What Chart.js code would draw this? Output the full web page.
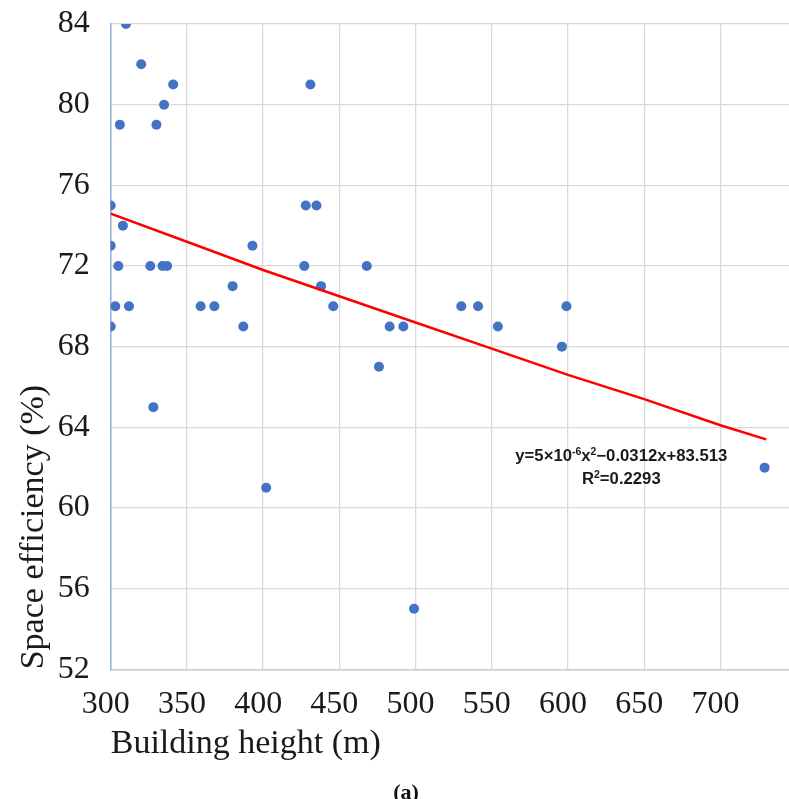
<!DOCTYPE html>
<html lang="en">
<head>
  <title>Space efficiency vs building height</title>
  <script src="https://cdn.jsdelivr.net/npm/chart.js"></script>
  <style>
    body { margin: 0; background: #fff; }
    #chart { display: block; }
  </style>
</head>
<body>
  <canvas id="chart" width="789" height="799"></canvas>
  <script>
    // Building height (m) / space efficiency (%)
    const heights = [310, 320, 341, 431, 335, 306, 330, 300, 428, 435,
                     308, 300, 393, 305, 326, 334, 337, 427, 468, 380,
                     438, 303, 312, 359, 368, 446, 530, 541, 599, 300,
                     387, 483, 492, 554, 596, 476, 328, 402, 729, 499];
    const efficiency = [84, 82, 81, 81, 80, 79, 79, 75, 75, 75,
                        74, 73, 73, 72, 72, 72, 72, 72, 72, 71,
                        71, 70, 70, 70, 70, 70, 70, 70, 70, 69,
                        69, 69, 69, 69, 68, 67, 65, 61, 62, 55];

    // trend line, read at a few heights
    const trendX = [300, 350, 400, 450, 500, 550, 600, 650, 700, 730];
    const trendY = [74.6, 73.2, 71.8, 70.5, 69.2, 67.9, 66.6, 65.4, 64.1, 63.4];

    // axis ranges and tick steps
    const xMin = 300, xMax = 745, xStep = 50;
    const yMin = 52, yMax = 84, yStep = 4;

    const equationText = [
      [['y=5×10', 0], ['-6', 1], ['x', 0], ['2', 1], ['−0.0312x+83.513', 0]],
      [['R', 0], ['2', 1], ['=0.2293', 0]]
    ];
    const panelLabel = '(a)';

    const serif = "'Liberation Serif', 'Times New Roman', serif";
    const narrow = "'Liberation Sans Narrow', 'Liberation Sans', Arial, sans-serif";

    // draws the fit equation and the panel letter
    const extrasPlugin = {
      id: 'extras',
      afterDraw(chart) {
        const ctx = chart.ctx;
        const xs = chart.scales.x, ys = chart.scales.y;
        const cx = xs.getPixelForValue(635);
        const cy = ys.getPixelForValue(62.65);
        const big = 'bold 16px ' + narrow;
        const small = 'bold 10px ' + narrow;

        ctx.save();
        ctx.fillStyle = '#1a1a1a';
        ctx.textBaseline = 'alphabetic';
        let sx = null;
        equationText.forEach((runs, i) => {
          let w = 0;
          runs.forEach(r => { ctx.font = r[1] ? small : big; w += ctx.measureText(r[0]).width; });
          if (sx === null) sx = 212 / w;
          ctx.save();
          ctx.translate(cx - w * sx / 2, cy + 6 + i * 23);
          ctx.scale(sx, 1);
          let x = 0;
          runs.forEach(r => {
            ctx.font = r[1] ? small : big;
            ctx.fillText(r[0], x, r[1] ? -6 : 0);
            x += ctx.measureText(r[0]).width;
          });
          ctx.restore();
        });

        ctx.font = 'bold 22px ' + serif;
        ctx.fillStyle = '#111';
        ctx.textAlign = 'center';
        ctx.textBaseline = 'middle';
        ctx.fillText(panelLabel, 406, 793);
        ctx.restore();
      }
    };

    const points = heights.map((h, i) => ({ x: h, y: efficiency[i] }));
    const trend = trendX.map((h, i) => ({ x: h, y: trendY[i] }));

    new Chart(document.getElementById('chart'), {
      type: 'scatter',
      data: {
        datasets: [
          {
            type: 'line',
            data: trend,
            borderColor: '#ff0000',
            borderWidth: 2.5,
            pointRadius: 0,
            tension: 0,
            fill: false
          },
          {
            data: points,
            backgroundColor: '#4472c4',
            borderWidth: 0,
            pointRadius: 5,
            pointHoverRadius: 5
          }
        ]
      },
      options: {
        responsive: false,
        animation: false,
        layout: { autoPadding: false, padding: { top: 24, right: 0, bottom: 0, left: 0 } },
        plugins: {
          legend: { display: false },
          tooltip: { enabled: false }
        },
        scales: {
          x: {
            type: 'linear',
            min: xMin,
            max: xMax,
            afterFit: s => {
              s.height = 129.7;
              s.paddingLeft = 0;
              s.paddingRight = 0;
            },
            ticks: {
              stepSize: xStep,
              includeBounds: false,
              padding: 16,
              labelOffset: -5,
              color: '#1a1a1a',
              font: { family: serif, size: 32 }
            },
            grid: { color: '#d9d9d9', lineWidth: 1.3, drawTicks: false },
            border: { color: '#c5cfdc', width: 1.5 },
            title: {
              display: true,
              text: 'Building height (m)',
              align: 'start',
              color: '#1a1a1a',
              font: { family: serif, size: 34 },
              padding: { top: 0, bottom: 35 }
            }
          },
          y: {
            min: yMin,
            max: yMax,
            afterFit: s => {
              s.width = 110.7;
              s.paddingTop = 0;
              s.paddingBottom = 0;
            },
            ticks: {
              stepSize: yStep,
              padding: 21,
              color: '#1a1a1a',
              font: { family: serif, size: 32 }
            },
            grid: { color: '#d9d9d9', lineWidth: 1.3, drawTicks: false },
            border: { color: '#8db3e2', width: 1.5 },
            title: {
              display: true,
              text: 'Space efficiency (%)',
              align: 'start',
              color: '#1a1a1a',
              font: { family: serif, size: 34 },
              padding: { top: 14, bottom: 0 }
            }
          }
        }
      },
      plugins: [extrasPlugin]
    });
  </script>
</body>
</html>
